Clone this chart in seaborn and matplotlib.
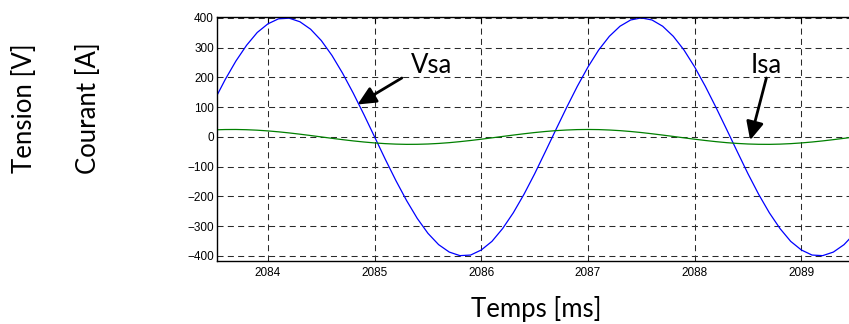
import matplotlib
matplotlib.use("Agg")
import matplotlib.pyplot as plt
import seaborn as sns
import numpy as np
import pandas as pd

# ---- data (ms, V, A) ----
temps_ms = [2083.5, 2083.6, 2083.7, 2083.8, 2083.9, 2084.0, 2084.1, 2084.2, 2084.3, 2084.4,
            2084.5, 2084.6, 2084.7, 2084.8, 2084.9, 2085.0, 2085.1, 2085.2, 2085.3, 2085.4,
            2085.5, 2085.6, 2085.7, 2085.8, 2085.9, 2086.0, 2086.1, 2086.2, 2086.3, 2086.4,
            2086.5, 2086.6, 2086.7, 2086.8, 2086.9, 2087.0, 2087.1, 2087.2, 2087.3, 2087.4,
            2087.5, 2087.6, 2087.7, 2087.8, 2087.9, 2088.0, 2088.1, 2088.2, 2088.3, 2088.4,
            2088.5, 2088.6, 2088.7, 2088.8, 2088.9, 2089.0, 2089.1, 2089.2, 2089.3, 2089.4,
            2089.5]
vsa = [124, 193, 255, 308, 351, 380, 397, 399, 387, 362,
       324, 274, 214, 147, 75, 0, -75, -147, -214, -274,
       -324, -362, -387, -399, -397, -380, -351, -308, -255, -193,
       -124, -50, 25, 99, 170, 235, 292, 338, 372, 393,
       400, 393, 372, 338, 292, 235, 170, 99, 25, -50,
       -124, -193, -255, -308, -351, -380, -397, -399, -387, -362,
       -324]
isa = [23.8, 24.8, 25.0, 24.2, 22.6, 20.2, 17.1, 13.4, 9.2, 4.7,
       0.0, -4.7, -9.2, -13.4, -17.1, -20.2, -22.6, -24.2, -25.0, -24.8,
       -23.8, -21.9, -19.3, -15.9, -12.0, -7.7, -3.1, 1.6, 6.2, 10.6,
       14.7, 18.2, 21.1, 23.2, 24.6, 25.0, 24.6, 23.2, 21.1, 18.2,
       14.7, 10.6, 6.2, 1.6, -3.1, -7.7, -12.0, -15.9, -19.3, -21.9,
       -23.8, -24.8, -25.0, -24.2, -22.6, -20.2, -17.1, -13.4, -9.2, -4.7,
       0.0]
x_ticks = [2084, 2085, 2086, 2087, 2088, 2089]
y_ticks = [-400, -300, -200, -100, 0, 100, 200, 300, 400]

df = pd.DataFrame({"t": temps_ms, "Vsa": vsa, "Isa": isa})

sns.set_style("white")
plt.rcParams["font.family"] = ["Liberation Sans", "DejaVu Sans"]

W, H = 849, 324
fig = plt.figure(figsize=(W / 100, H / 100), dpi=100)
left_px, right_px, top_px, bot_px = 216.7, 854.7, 17.3, 261.0
ax = fig.add_axes([left_px / W, 1 - bot_px / H,
                   (right_px - left_px) / W, (bot_px - top_px) / H])

sns.lineplot(data=df, x="t", y="Vsa", ax=ax, color="#0000ff", linewidth=0.9)
sns.lineplot(data=df, x="t", y="Isa", ax=ax, color="#008000", linewidth=0.9)

ax.set_xlim(2083.52, 2089.5)
ax.set_ylim(-417, 402)
ax.set_xticks(x_ticks)
ax.set_yticks(y_ticks)
ax.set_xlabel("")
ax.set_ylabel("")
ax.grid(True, color="#2a2a2a", linewidth=0.75, linestyle=(0, (5.8, 4.1)))
for s in ax.spines.values():
    s.set_color("black")
    s.set_linewidth(1.0)
ax.tick_params(direction="in", top=True, right=True, length=4, width=0.8,
               labelsize=8.5, colors="black")
ax.tick_params(axis="y", pad=2.0)
ax.tick_params(axis="x", pad=4)

big = dict(family=["Lato", "DejaVu Sans"], fontsize=18.5, color="black")

# annotations
arrow = dict(arrowstyle="-|>,head_length=0.55,head_width=0.26", color="black",
             lw=2.0, shrinkA=0, shrinkB=0, mutation_scale=20)
ax.annotate("", xy=(2084.84, 109), xytext=(2085.255, 198), arrowprops=arrow)
ax.annotate("", xy=(2088.52, -11), xytext=(2088.672, 198), arrowprops=arrow)
ax.text(2085.536, 215, "Vsa", ha="center", va="baseline", **big)
ax.text(2088.672, 215, "Isa", ha="center", va="baseline", **big)

fig.text(24 / W, 1 - 108.3 / H, "Tension [V]", rotation=90, ha="center", va="center", **big)
fig.text(88 / W, 1 - 108.3 / H, "Courant [A]", rotation=90, ha="center", va="center", **big)
fig.text(535.8 / W, 1 - 316.7 / H, "Temps [ms]", ha="center", va="baseline", **big)

fig.savefig("out.png", dpi=100)
